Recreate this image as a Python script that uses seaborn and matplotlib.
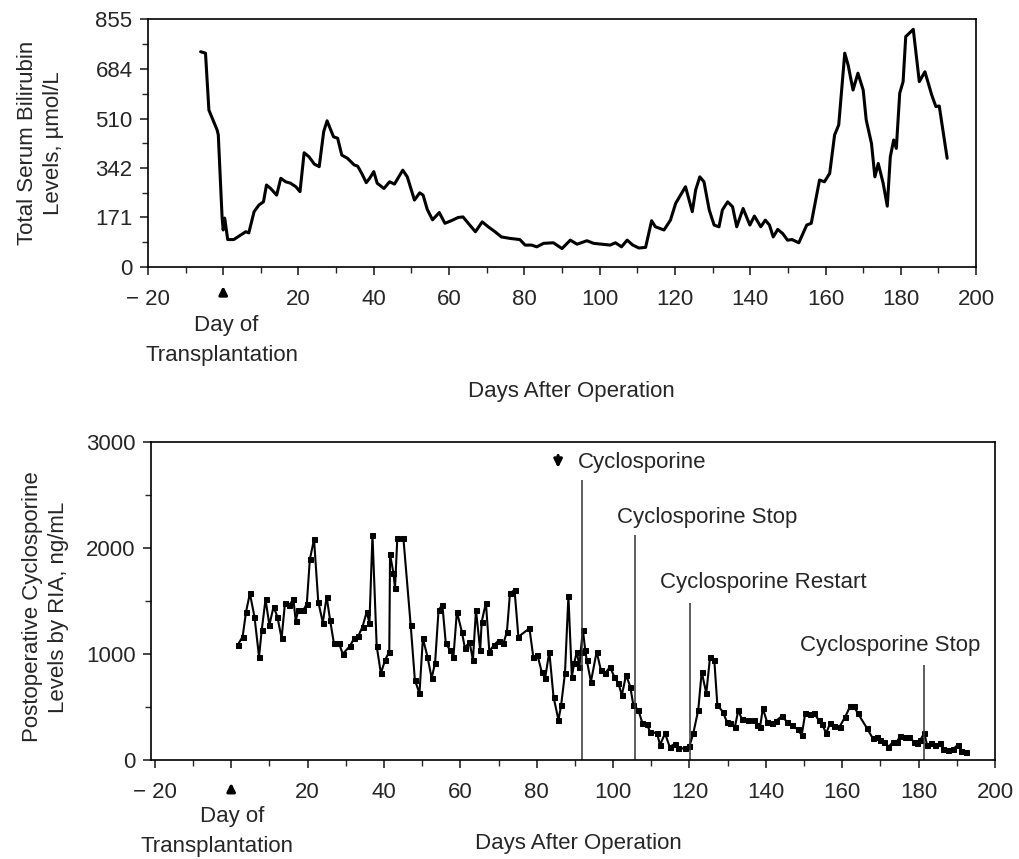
import matplotlib
matplotlib.use('Agg')
import matplotlib.pyplot as plt
import seaborn as sns
import pandas as pd

# --- bilirubin (top panel) ---
bili_day = [-6.0, -4.7, -3.8, -1.6, -1.3, -0.3, 0.0, 0.4, 1.2, 2.8, 4.6, 6.0, 6.8, 8.2, 9.5,
            10.7, 11.5, 12.6, 14.2, 15.3, 16.6, 17.9, 19.3, 20.4, 21.5, 22.8, 24.2, 25.5, 26.7,
            27.6, 28.4, 29.3, 30.4, 31.5, 33.0, 34.8, 35.7, 36.8, 38.0, 38.9, 40.0, 40.9, 42.7,
            44.2, 45.5, 46.4, 47.7, 48.9, 50.8, 52.2, 53.1, 54.2, 55.6, 57.4, 58.9, 60.6, 62.4,
            63.7, 65.1, 67.0, 68.8, 70.4, 72.2, 73.9, 76.2, 78.8, 80.2, 81.9, 83.3, 85.1, 87.7,
            90.0, 92.2, 94.0, 96.6, 98.4, 100.6, 102.8, 104.2, 105.8, 107.3, 108.8, 110.4, 112.2,
            113.8, 114.8, 117.1, 118.8, 120.2, 122.8, 124.6, 125.5, 126.6, 127.7, 129.1, 130.4,
            131.7, 132.6, 134.0, 135.3, 136.4, 138.1, 139.9, 141.1, 142.8, 144.0, 145.1, 146.1,
            147.3, 148.6, 149.9, 151.1, 152.9, 155.0, 156.2, 158.4, 159.7, 161.1, 162.4, 163.5,
            165.1, 166.0, 167.3, 168.6, 170.0, 170.8, 172.2, 173.1, 174.0, 175.3, 176.4, 177.2,
            178.1, 178.8, 179.7, 180.6, 181.3, 183.3, 184.9, 186.4, 188.2, 189.3, 190.2, 192.3]
bili_val = [742, 737, 541, 472, 455, 173, 128, 169, 95, 95, 110, 122, 118, 191, 214,
            225, 283, 271, 248, 306, 294, 289, 277, 260, 394, 380, 355, 346, 467,
            504, 478, 449, 444, 386, 375, 352, 348, 323, 291, 306, 329, 289, 271,
            294, 286, 306, 334, 311, 231, 256, 248, 199, 163, 188, 151, 160, 171,
            173, 151, 122, 156, 139, 122, 104, 99, 95, 76, 76, 70, 82, 84,
            64, 93, 79, 91, 82, 79, 76, 84, 70, 93, 76, 66, 68,
            160, 139, 128, 162, 220, 277, 191, 266, 311, 294, 197, 145,
            139, 197, 225, 208, 139, 202, 145, 176, 139, 162, 145, 104,
            130, 116, 93, 95, 84, 145, 151, 300, 294, 323, 455, 490,
            737, 696, 610, 668, 610, 507, 426, 311, 357, 289, 210, 380,
            438, 409, 599, 639, 794, 819, 639, 673, 593, 553, 555, 375]

# --- cyclosporine (bottom panel) ---
cyc_day = [1.7, 3.0, 3.9, 4.9, 6.1, 7.3, 8.0, 9.0, 10.0, 11.1, 12.1, 13.2, 14.1, 15.2, 16.3,
           16.9, 17.6, 18.9, 19.8, 20.6, 21.7, 22.8, 24.0, 25.0, 25.9, 26.9, 28.2, 29.2, 31.1,
           32.2, 33.3, 34.4, 35.5, 36.2, 37.0, 38.1, 39.2, 40.3, 41.4, 41.6, 42.5, 42.9, 43.5,
           45.1, 47.0, 48.1, 49.3, 50.2, 51.4, 52.5, 53.4, 54.3, 55.3, 56.2, 57.3, 58.2, 59.1,
           60.4, 61.2, 62.4, 63.3, 64.1, 65.2, 65.6, 66.7, 67.6, 68.8, 70.0, 71.3, 72.2, 73.0,
           74.2, 75.2, 78.1, 79.1, 80.2, 81.3, 82.2, 83.3, 84.4, 85.7, 86.4, 87.4, 88.3, 89.2,
           89.8, 90.5, 91.2, 91.5, 92.1, 92.7, 93.1, 94.2, 95.7, 96.8, 97.9, 99.2, 100.3, 101.4,
           102.3, 103.4, 104.5, 105.3, 106.6, 107.7, 108.8, 109.7, 111.5, 112.3, 113.6, 114.8,
           116.2, 117.1, 118.9, 120.0, 121.0, 122.3, 123.2, 124.4, 125.4, 126.5, 127.3, 128.7,
           129.8, 130.6, 131.9, 132.8, 133.7, 135.4, 136.8, 137.8, 138.5, 139.2, 140.3, 141.6,
           142.7, 144.2, 145.5, 146.8, 148.3, 149.4, 150.3, 151.6, 152.6, 153.8, 154.7, 155.8,
           156.8, 157.9, 159.3, 160.8, 162.1, 163.0, 164.0, 166.5, 168.0, 169.1, 169.9, 171.0,
           172.1, 173.4, 174.3, 175.2, 176.5, 177.6, 178.7, 179.7, 180.4, 181.5, 182.2, 183.2,
           184.3, 185.5, 186.5, 187.8, 189.0, 190.2, 191.1, 192.5]
cyc_val = [1085, 1163, 1399, 1572, 1352, 975, 1226, 1516, 1274, 1446, 1352, 1148, 1484, 1462, 1516,
           1314, 1415, 1415, 1472, 1893, 2082, 1494, 1296, 1541, 1321, 1101, 1107, 1000, 1075,
           1148, 1170, 1258, 1399, 1290, 2123, 1075, 818, 943, 1022, 1943, 1761, 1620, 2091,
           2091, 1274, 755, 629, 1148, 975, 771, 920, 1415, 1462, 1101, 1038, 975, 1399,
           1211, 1054, 1116, 943, 1415, 1038, 1305, 1484, 1022, 1085, 1126, 1101, 1211, 1572,
           1604, 1163, 1242, 975, 991, 833, 771, 1022, 597, 377, 519, 818, 1547, 786,
           912, 1022, 880, 1022, 1226, 1038, 943, 739, 1022, 849, 818, 880, 786, 723,
           613, 802, 692, 519, 472, 346, 340, 267, 252, 142, 252, 126,
           151, 110, 110, 132, 252, 472, 833, 629, 975, 943, 519, 456,
           361, 346, 314, 472, 384, 377, 377, 330, 314, 487, 361, 346,
           371, 415, 361, 330, 289, 236, 440, 434, 446, 377, 340, 252,
           346, 321, 314, 409, 509, 509, 446, 299, 204, 220, 189, 173,
           126, 173, 173, 226, 220, 220, 173, 157, 189, 252, 142, 157,
           142, 157, 101, 94, 101, 142, 88, 78]

# event markers in the bottom panel
event_day = [91.8, 105.8, 120.2, 181.5]
event_top = [2641, 2123, 1481, 896]
event_text = ['Cyclosporine', 'Cyclosporine Stop', 'Cyclosporine Restart', 'Cyclosporine Stop']
event_text_x = [90.8, 101.0, 112.3, 149.0]
event_text_y = [2811, 2292, 1679, 1080]

bili_ticks = [0, 171, 342, 510, 684, 855]
bili_minor = [85.5, 256.5, 426, 597, 769.5]
cyc_ticks = [0, 1000, 2000, 3000]
cyc_minor = [500, 1500, 2500]
day_ticks = [-20, 0, 20, 40, 60, 80, 100, 120, 140, 160, 180, 200]
day_labels = ['\u2212 20', '', '20', '40', '60', '80', '100', '120', '140', '160', '180', '200']
day_minor = [-10, 10, 30, 50, 70, 90, 110, 130, 150, 170, 190]

sns.set_style('ticks')
plt.rcParams['font.family'] = ['Liberation Sans', 'DejaVu Sans']
plt.rcParams['font.size'] = 16

bili = pd.DataFrame({'day': bili_day, 'value': bili_val})
cyc = pd.DataFrame({'day': cyc_day, 'value': cyc_val})

fig = plt.figure(figsize=(10.2, 8.59), dpi=100)
ax1 = fig.add_axes([0.145, 0.689, 0.812, 0.289])
ax2 = fig.add_axes([0.148, 0.1152, 0.8275, 0.3702])

# top panel
sns.lineplot(data=bili, x='day', y='value', ax=ax1, color='black', lw=2.2, estimator=None)
ax1.set_xlim(-20, 200)
ax1.set_ylim(0, 855)
ax1.set_yticks(bili_ticks)
ax1.set_yticks(bili_minor, minor=True)

# bottom panel
sns.lineplot(data=cyc, x='day', y='value', ax=ax2, color='black', lw=1.5, estimator=None,
             marker='s', markersize=3.6, markeredgecolor='black')
ax2.vlines(event_day, 0, event_top, color='#333333', lw=1.1)
for tx, ty, t in zip(event_text_x, event_text_y, event_text):
    ax2.text(tx, ty, t, ha='left', va='center', fontsize=16)
ax2.annotate('', xy=(85.6, 2730), xytext=(85.6, 2900),
             arrowprops=dict(arrowstyle='-|>', lw=2.2, color='black', mutation_scale=12))
ax2.set_xlim(-21, 200)
ax2.set_ylim(0, 3000)
ax2.set_yticks(cyc_ticks)
ax2.set_yticks(cyc_minor, minor=True)

for ax in (ax1, ax2):
    ax.set_xticks(day_ticks)
    ax.set_xticklabels(day_labels)
    ax.set_xticks(day_minor, minor=True)
    ax.set_xlabel('')
    ax.set_ylabel('')
    ax.tick_params(which='major', direction='out', length=6, width=1.2, labelsize=16, pad=5)
    ax.tick_params(axis='x', which='major', pad=10)
    ax.tick_params(which='minor', direction='out', length=4, width=1.0)
    for s in ax.spines.values():
        s.set_visible(True)
        s.set_linewidth(1.2)
        s.set_color('black')

# arrows marking the day of transplantation
ax1.annotate('', xy=(0, -0.065), xytext=(0, -0.121),
             xycoords=('data', 'axes fraction'), textcoords=('data', 'axes fraction'),
             arrowprops=dict(arrowstyle='-|>', lw=2.2, color='black', mutation_scale=12),
             annotation_clip=False)
ax2.annotate('', xy=(0, -0.063), xytext=(0, -0.104),
             xycoords=('data', 'axes fraction'), textcoords=('data', 'axes fraction'),
             arrowprops=dict(arrowstyle='-|>', lw=2.2, color='black', mutation_scale=12),
             annotation_clip=False)

# labels
fig.text(0.040, 0.8335, 'Total Serum Bilirubin\nLevels, \u00b5mol/L', rotation=90,
         ha='center', va='center', fontsize=16, linespacing=1.3)
fig.text(0.045, 0.2934, 'Postoperative Cyclosporine\nLevels by RIA, ng/mL', rotation=90,
         ha='center', va='center', fontsize=16, linespacing=1.3)
fig.text(0.560, 0.5437, 'Days After Operation', ha='center', va='center', fontsize=16)
fig.text(0.567, 0.0175, 'Days After Operation', ha='center', va='center', fontsize=16)
fig.text(0.2216, 0.6205, 'Day of', ha='center', va='center', fontsize=16)
fig.text(0.2176, 0.5856, 'Transplantation', ha='center', va='center', fontsize=16)
fig.text(0.2275, 0.049, 'Day of', ha='center', va='center', fontsize=16)
fig.text(0.2127, 0.014, 'Transplantation', ha='center', va='center', fontsize=16)

fig.savefig('out.png', dpi=100)
